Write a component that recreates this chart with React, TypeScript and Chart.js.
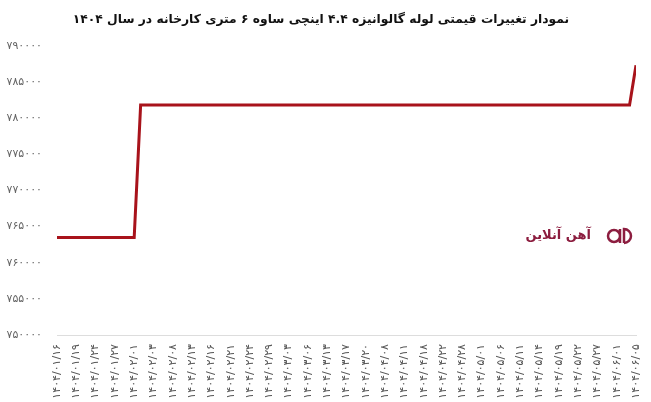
import { useEffect, useRef } from 'react';
import { Chart, registerables } from 'chart.js';

Chart.register(...registerables);

const chartTitle = 'نمودار تغییرات قیمتی لوله گالوانیزه ۴.۴ اینچی ساوه ۶ متری کارخانه در سال ۱۴۰۴';
const watermark = 'آهن آنلاین';

// one label shown for every third data point
const tickLabels = [
  '۱۴۰۴/۰۱/۱۶', '۱۴۰۴/۰۱/۱۹', '۱۴۰۴/۰۱/۲۴', '۱۴۰۴/۰۱/۲۷', '۱۴۰۴/۰۲/۰۱', '۱۴۰۴/۰۲/۰۳',
  '۱۴۰۴/۰۲/۰۸', '۱۴۰۴/۰۲/۱۳', '۱۴۰۴/۰۲/۱۶', '۱۴۰۴/۰۲/۲۱', '۱۴۰۴/۰۲/۲۴', '۱۴۰۴/۰۲/۲۹',
  '۱۴۰۴/۰۳/۰۳', '۱۴۰۴/۰۳/۰۶', '۱۴۰۴/۰۳/۱۳', '۱۴۰۴/۰۳/۱۷', '۱۴۰۴/۰۳/۲۰', '۱۴۰۴/۰۴/۰۸',
  '۱۴۰۴/۰۴/۱۱', '۱۴۰۴/۰۴/۱۸', '۱۴۰۴/۰۴/۲۲', '۱۴۰۴/۰۴/۲۸', '۱۴۰۴/۰۵/۰۱', '۱۴۰۴/۰۵/۰۶',
  '۱۴۰۴/۰۵/۱۱', '۱۴۰۴/۰۵/۱۴', '۱۴۰۴/۰۵/۱۹', '۱۴۰۴/۰۵/۲۲', '۱۴۰۴/۰۵/۲۷', '۱۴۰۴/۰۶/۰۱',
  '۱۴۰۴/۰۶/۰۵',
];

const prices = [
  763500, 763500, 763500, 763500, 763500, 763500, 763500, 763500, 763500, 763500,
  763500, 763500, 763500, 781800, 781800, 781800, 781800, 781800, 781800, 781800,
  781800, 781800, 781800, 781800, 781800, 781800, 781800, 781800, 781800, 781800,
  781800, 781800, 781800, 781800, 781800, 781800, 781800, 781800, 781800, 781800,
  781800, 781800, 781800, 781800, 781800, 781800, 781800, 781800, 781800, 781800,
  781800, 781800, 781800, 781800, 781800, 781800, 781800, 781800, 781800, 781800,
  781800, 781800, 781800, 781800, 781800, 781800, 781800, 781800, 781800, 781800,
  781800, 781800, 781800, 781800, 781800, 781800, 781800, 781800, 781800, 781800,
  781800, 781800, 781800, 781800, 781800, 781800, 781800, 781800, 781800, 781800,
  787300,
];

const yMin = 750000;
const yMax = 790000;
const yStep = 5000;
const pointsPerLabel = 3;

const faDigits = '۰۱۲۳۴۵۶۷۸۹';
const toFa = (s: string) => s.replace(/[0-9]/g, (d) => faDigits[Number(d)]);

const watermarkPlugin = {
  id: 'watermark',
  afterDraw(chart: any) {
    const { ctx } = chart;
    ctx.save();
    ctx.fillStyle = '#8c1d3f';
    ctx.font = 'bold 13px "DejaVu Sans"';
    ctx.textAlign = 'right';
    ctx.textBaseline = 'middle';
    ctx.direction = 'rtl';
    ctx.fillText(watermark, 591, 236);
    // logo mark
    ctx.strokeStyle = '#8c1d3f';
    ctx.lineWidth = 2.5;
    ctx.beginPath();
    ctx.arc(614, 236, 6, 0, Math.PI * 2);
    ctx.moveTo(620, 229);
    ctx.lineTo(620, 243);
    ctx.moveTo(624, 229);
    ctx.lineTo(624, 243);
    ctx.arc(624, 236, 7, -Math.PI / 2, Math.PI / 2);
    ctx.stroke();
    ctx.restore();
  },
};

export default function App() {
  const ref = useRef<HTMLCanvasElement | null>(null);
  useEffect(() => {
    document.body.style.margin = '0';
    const canvas = ref.current;
    if (!canvas) return;
    const chart = new Chart(canvas, {
      type: 'line',
      data: {
        datasets: [
          {
            data: prices.map((v, i) => ({ x: i, y: v })),
            borderColor: '#a8131b',
            borderWidth: 3,
            pointRadius: 0,
            tension: 0,
            fill: false,
          },
        ],
      },
      options: {
        animation: false,
        responsive: false,
        maintainAspectRatio: false,
        layout: { padding: { left: 6, right: 15, top: 0, bottom: 0 } },
        plugins: {
          legend: { display: false },
          tooltip: { enabled: false },
          title: {
            display: true,
            text: chartTitle,
            color: '#111111',
            font: { family: '"DejaVu Sans"', size: 12.3, weight: 'bold' },
            padding: { top: 12, bottom: 19 },
          },
        },
        scales: {
          x: {
            type: 'linear',
            min: 0,
            max: prices.length - 1,
            grid: { display: false },
            border: { display: true, color: '#dddddd', width: 1 },
            afterFit: (s: any) => {
              s.height = 67;
              s.paddingLeft = 0;
              s.paddingRight = 0;
            },
            ticks: {
              stepSize: pointsPerLabel,
              autoSkip: false,
              maxRotation: 90,
              minRotation: 90,
              padding: 1,
              color: '#555555',
              font: { family: '"DejaVu Sans"', size: 11 },
              callback: (v: any) => tickLabels[Math.round(Number(v) / pointsPerLabel)] ?? '',
            },
          },
          y: {
            min: yMin,
            max: yMax,
            grid: { display: false },
            border: { display: false },
            afterFit: (s: any) => {
              s.width = 51;
            },
            ticks: {
              stepSize: yStep,
              padding: 7,
              color: '#666666',
              font: { family: '"DejaVu Sans"', size: 11 },
              callback: (v: any) => toFa(String(v)),
            },
          },
        },
      },
      plugins: [watermarkPlugin],
    });
    return () => chart.destroy();
  }, []);
  return (
    <div style={{ width: 651, height: 402, background: '#fff' }}>
      <canvas ref={ref} width={651} height={402} style={{ display: 'block' }} />
    </div>
  );
}
